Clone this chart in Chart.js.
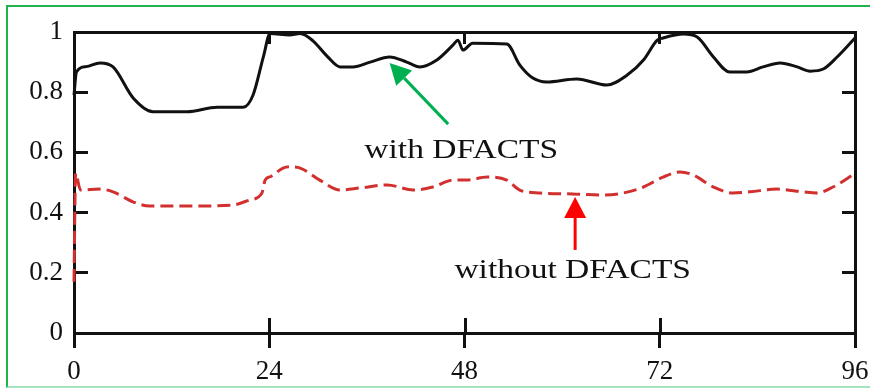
<!DOCTYPE html>
<html>
<head>
<meta charset="utf-8">
<script src="https://cdn.jsdelivr.net/npm/chart.js@4"></script>
<style>
  body { margin: 0; background: #fff; overflow: hidden; }
  #wrap { position: relative; width: 870px; height: 388px; overflow: hidden; }
  #chart { position: absolute; left: 0; top: 0; }
  #frame { position: absolute; left: 6px; top: 5px; width: 870px; height: 379px;
           border-top: 2px solid #1fb24f; border-left: 2px solid #1fb24f;
           border-bottom: 2px solid #a6e3c0; pointer-events: none; }
</style>
</head>
<body>
<div id="wrap">
  <canvas id="chart" width="870" height="388"></canvas>
  <div id="frame"></div>
</div>
<script>
// hours on the x axis
const withT = [0, 0.3, 1.5, 3.2, 4.8, 7.3, 9.7, 13.9, 17.6, 20.8, 22, 23.3, 24.1, 26.5, 27.8, 29.4, 31.1, 32.7, 34.3, 36.4, 38.8, 40.9, 42.5, 44.6, 46.6, 47.2, 47.8, 49, 53.2, 54.8, 56.4, 58.1, 61.8, 65.5, 68, 70, 71.7, 72.4, 74.9, 76.6, 78.6, 80.6, 82.7, 84.7, 86.8, 88.9, 90.5, 92.1, 93.8, 96];
const withV = [0.79, 0.867, 0.885, 0.897, 0.884, 0.78, 0.735, 0.735, 0.75, 0.75, 0.79, 0.92, 0.995, 0.99, 0.995, 0.97, 0.92, 0.884, 0.884, 0.9, 0.917, 0.9, 0.884, 0.907, 0.957, 0.973, 0.94, 0.963, 0.96, 0.89, 0.847, 0.834, 0.844, 0.824, 0.857, 0.907, 0.973, 0.98, 0.993, 0.983, 0.917, 0.867, 0.867, 0.884, 0.897, 0.884, 0.87, 0.877, 0.917, 0.98];

const withoutT = [0, 0.2, 0.8, 3.2, 4.8, 7.3, 9.3, 15.5, 19.5, 21.6, 23.1, 23.5, 24.2, 25.7, 26.5, 27.8, 30.2, 32.7, 35.2, 38.5, 41.7, 44.1, 46.6, 48.3, 50.8, 53.2, 54.8, 57.3, 61.3, 65, 67.5, 70, 72.4, 74.5, 76.1, 78.6, 81, 83.1, 86.4, 89.6, 91.3, 93.3, 96];
const withoutV = [0.17, 0.53, 0.475, 0.478, 0.469, 0.435, 0.422, 0.422, 0.425, 0.442, 0.465, 0.508, 0.52, 0.548, 0.552, 0.548, 0.508, 0.475, 0.482, 0.492, 0.475, 0.485, 0.508, 0.508, 0.518, 0.508, 0.475, 0.465, 0.462, 0.458, 0.465, 0.485, 0.518, 0.535, 0.525, 0.485, 0.465, 0.469, 0.478, 0.469, 0.465, 0.485, 0.53];

const xTicks = [0, 24, 48, 72, 96];
const yTicks = [0, 0.2, 0.4, 0.6, 0.8, 1];

// callouts (data coords)
const notes = [
  { text: 'with DFACTS', x: 47.6, y: 0.581, color: '#00b050', from: [46.0, 0.694], to: [38.8, 0.897] },
  { text: 'without DFACTS', x: 61.3, y: 0.183, color: '#ff0000', from: [61.6, 0.276], to: [61.6, 0.452] }
];

const FONT = "'Liberation Serif', 'Times New Roman', serif";

function pts(t, v) {
  return t.map((x, i) => ({ x: x, y: v[i] }));
}

// fixed axis sizes, no extra room for overhanging labels
function fixSize(w, h) {
  return s => {
    if (w != null) s.width = w;
    if (h != null) s.height = h;
    s.paddingTop = 0; s.paddingBottom = 0; s.paddingLeft = 0; s.paddingRight = 0;
  };
}

const innerTicks = {
  id: 'innerTicks',
  afterDatasetsDraw(chart) {
    const ctx = chart.ctx;
    const xs = chart.scales.x;
    const bottom = chart.chartArea.bottom;
    ctx.save();
    ctx.strokeStyle = '#111';
    ctx.lineWidth = 3;
    xTicks.slice(1, -1).forEach(t => {
      const px = Math.round(xs.getPixelForValue(t)) + 0.5;
      ctx.beginPath();
      ctx.moveTo(px, bottom);
      ctx.lineTo(px, bottom - 15);
      ctx.stroke();
    });
    ctx.restore();
  }
};

const callouts = {
  id: 'callouts',
  afterDatasetsDraw(chart) {
    const ctx = chart.ctx;
    const xs = chart.scales.x, ys = chart.scales.y;
    notes.forEach(n => {
      const x1 = xs.getPixelForValue(n.from[0]), y1 = ys.getPixelForValue(n.from[1]);
      const x2 = xs.getPixelForValue(n.to[0]), y2 = ys.getPixelForValue(n.to[1]);
      const ang = Math.atan2(y2 - y1, x2 - x1);
      const hl = 21, hw = 11;
      const bx = x2 - hl * Math.cos(ang), by = y2 - hl * Math.sin(ang);
      ctx.save();
      ctx.strokeStyle = n.color;
      ctx.fillStyle = n.color;
      ctx.lineWidth = 3;
      ctx.beginPath();
      ctx.moveTo(x1, y1);
      ctx.lineTo(bx, by);
      ctx.stroke();
      ctx.beginPath();
      ctx.moveTo(x2, y2);
      ctx.lineTo(bx + hw * Math.sin(ang), by - hw * Math.cos(ang));
      ctx.lineTo(bx - hw * Math.sin(ang), by + hw * Math.cos(ang));
      ctx.closePath();
      ctx.fill();
      ctx.restore();

      ctx.save();
      ctx.translate(xs.getPixelForValue(n.x), ys.getPixelForValue(n.y));
      ctx.scale(1.24, 1);
      ctx.font = '27px ' + FONT;
      ctx.fillStyle = '#111';
      ctx.textAlign = 'center';
      ctx.textBaseline = 'alphabetic';
      ctx.fillText(n.text, 0, 0);
      ctx.restore();
    });
  }
};

const tickFont = { family: FONT, size: 27 };

new Chart(document.getElementById('chart').getContext('2d'), {
  type: 'line',
  data: {
    datasets: [
      {
        label: 'with DFACTS',
        data: pts(withT, withV),
        borderColor: '#111',
        borderWidth: 3,
        pointRadius: 0,
        cubicInterpolationMode: 'monotone',
        clip: 5
      },
      {
        label: 'without DFACTS',
        data: pts(withoutT, withoutV),
        borderColor: '#d2302e',
        borderWidth: 3,
        borderDash: [13, 6],
        pointRadius: 0,
        cubicInterpolationMode: 'monotone',
        clip: 5
      }
    ]
  },
  options: {
    responsive: false,
    animation: false,
    layout: { padding: 0 },
    plugins: { legend: { display: false }, tooltip: { enabled: false } },
    scales: {
      x: {
        type: 'linear', position: 'bottom', min: 0, max: 96,
        afterBuildTicks: s => { s.ticks = xTicks.map(v => ({ value: v })); },
        ticks: { font: tickFont, color: '#111', padding: 8, maxRotation: 0 },
        grid: { drawOnChartArea: false, tickLength: 15, color: '#111', lineWidth: 3 },
        border: { color: '#111', width: 3 },
        afterFit: fixSize(null, 55)
      },
      x2: {
        type: 'linear', position: 'top', min: 0, max: 96,
        afterBuildTicks: s => { s.ticks = xTicks.map(v => ({ value: v })); },
        ticks: { display: false },
        grid: { drawOnChartArea: false, tickLength: -12, color: '#111', lineWidth: 3 },
        border: { color: '#111', width: 3 },
        afterFit: fixSize(null, 32)
      },
      y: {
        type: 'linear', position: 'left', min: 0, max: 1,
        afterBuildTicks: s => { s.ticks = yTicks.map(v => ({ value: v })); },
        ticks: { font: tickFont, color: '#111', padding: 25, callback: v => String(+v.toFixed(1)) },
        grid: { drawOnChartArea: false, tickLength: -14, color: '#111', lineWidth: 3 },
        border: { color: '#111', width: 3 },
        afterFit: fixSize(74, null)
      },
      y2: {
        type: 'linear', position: 'right', min: 0, max: 1,
        afterBuildTicks: s => { s.ticks = yTicks.map(v => ({ value: v })); },
        ticks: { display: false },
        grid: { drawOnChartArea: false, tickLength: -13, color: '#111', lineWidth: 3 },
        border: { color: '#111', width: 3 },
        afterFit: fixSize(15, null)
      }
    }
  },
  plugins: [innerTicks, callouts]
});
</script>
</body>
</html>
